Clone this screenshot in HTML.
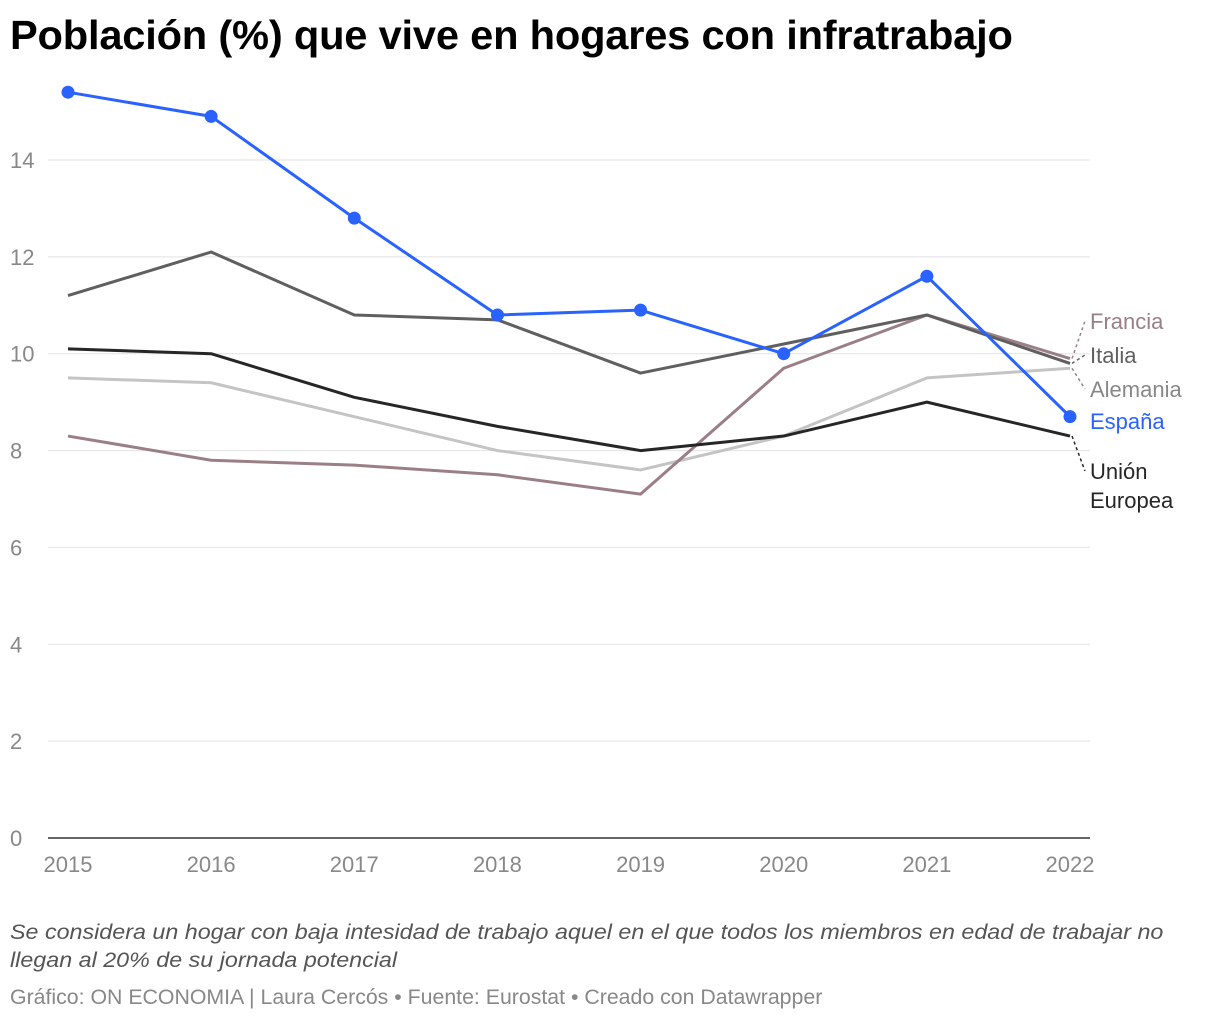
<!DOCTYPE html>
<html><head><meta charset="utf-8"><style>
body{margin:0;background:#fff;width:1220px;height:1020px;overflow:hidden;font-family:"Liberation Sans",sans-serif;}
h1{position:absolute;left:10px;top:12px;margin:0;font-size:41px;font-weight:bold;color:#000;letter-spacing:-0.2px;transform:scaleX(1.015);transform-origin:left}
.note{position:absolute;left:10px;top:918px;font-size:21.5px;font-style:italic;color:#555;line-height:28px;width:1200px;white-space:nowrap;transform:scaleX(1.083);transform-origin:left}
.src{position:absolute;left:10px;top:985px;font-size:21.3px;color:#888}
</style></head><body>
<h1>Población (%) que vive en hogares con infratrabajo</h1>
<svg id="c" width="1220" height="1020" style="position:absolute;left:0;top:0"></svg>
<div class="note">Se considera un hogar con baja intesidad de trabajo aquel en el que todos los miembros en edad de trabajar no<br>llegan al 20% de su jornada potencial</div>
<div class="src">Gráfico: ON ECONOMIA | Laura Cercós • Fuente: Eurostat • Creado con Datawrapper</div>
<script>
const years=[2015,2016,2017,2018,2019,2020,2021,2022];
const yTicks=[0,2,4,6,8,10,12,14];
const espana=[15.4,14.9,12.8,10.8,10.9,10.0,11.6,8.7];
const italia=[11.2,12.1,10.8,10.7,9.6,10.2,10.8,9.8];
const ue=[10.1,10.0,9.1,8.5,8.0,8.3,9.0,8.3];
const alemania=[9.5,9.4,8.7,8.0,7.6,8.3,9.5,9.7];
const francia=[8.3,7.8,7.7,7.5,7.1,9.7,10.8,9.9];
const NS="http://www.w3.org/2000/svg";
const svg=document.getElementById('c');
const X=i=>68+i*(1070-68)/7;
const Y=v=>838-v*(838-160)/14;
function mk(t,a,p){const e=document.createElementNS(NS,t);for(const k in a)e.setAttribute(k,a[k]);(p||svg).appendChild(e);return e;}
yTicks.forEach(t=>{
 if(t>0){const l=mk('line',{x1:48,x2:1090,y1:Y(t),y2:Y(t),stroke:'#e2e2e2','stroke-width':1});
 
 }
 const tx=mk('text',{x:10,y:Y(t)+8,'font-size':22,fill:'#888'});tx.textContent=t;
 
 
});
const ax=mk('line',{x1:48,x2:1090,y1:838,y2:838,stroke:'#333','stroke-width':1.5});


years.forEach((y,i)=>{const tx=mk('text',{x:X(i),y:872,'font-size':22,fill:'#888','text-anchor':'middle'});tx.textContent=y;
 
 });
function series(d,col,w,name,dots){
 const p=mk('polyline',{points:d.map((v,i)=>X(i)+','+Y(v)).join(' '),fill:'none',stroke:col,'stroke-width':w,'stroke-linejoin':'round'});
 
 
 if(dots)d.forEach((v,i)=>{const c=mk('circle',{cx:X(i),cy:Y(v),r:6.5,fill:col});
  
  });
}
series(alemania,'#c4c4c4',3,'alemania');
series(francia,'#9b7f86',3,'francia');
series(italia,'#5f5f5f',3,'italia');
series(ue,'#262626',3,'union-europea');
series(espana,'#2962ff',3,'espana',true);
function lab(txt,y,col,name,vy){
 const t=mk('text',{x:1090,y:y,'font-size':22,fill:col});t.textContent=txt;
 
 
 if(vy!==undefined){const l=mk('line',{x1:1072,y1:Y(vy),x2:1085,y2:y-8,stroke:col,'stroke-width':1.5,'stroke-dasharray':'3,3'});
 
 }
}
lab('Francia',329,'#9b7f86','francia',francia[7]);
lab('Italia',363,'#5f5f5f','italia',italia[7]);
lab('Alemania',397,'#888','alemania',alemania[7]);
lab('España',429,'#2962ff','espana');
lab('Unión',479,'#262626','union-europea',ue[7]);
const t2=mk('text',{x:1090,y:508,'font-size':22,fill:'#262626'});t2.textContent='Europea';


</script>
</body></html>
